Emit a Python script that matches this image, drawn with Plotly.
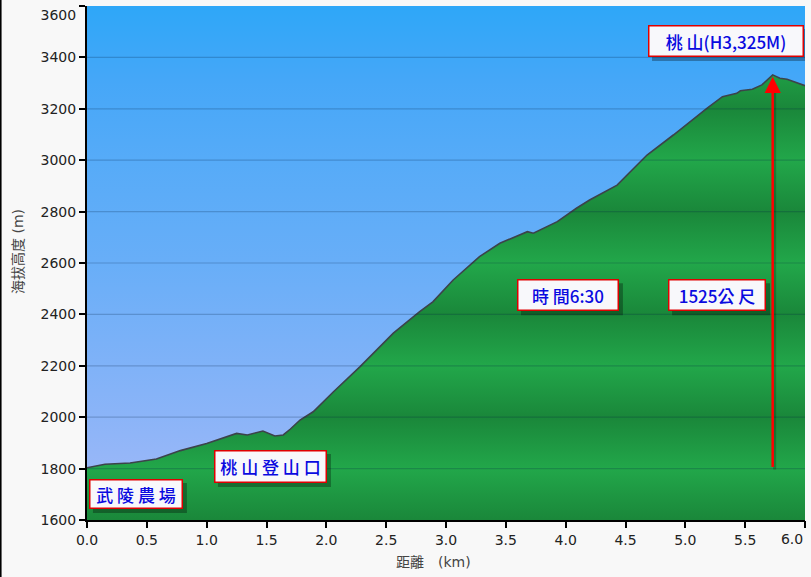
import plotly.graph_objects as go

# ---- data ----
dist_km = [0.00, 0.15, 0.36, 0.58, 0.78, 1.00, 1.25, 1.34, 1.47, 1.57, 1.64, 1.70, 1.78, 1.89,
           2.06, 2.28, 2.56, 2.78, 2.89, 3.06, 3.28, 3.45, 3.68, 3.73, 3.93, 4.09, 4.20, 4.43,
           4.68, 4.90, 5.18, 5.31, 5.43, 5.46, 5.56, 5.64, 5.73, 5.79, 5.85, 5.98, 6.00]
elev_m = [1803, 1817, 1822, 1837, 1870, 1898, 1937, 1931, 1946, 1927, 1931, 1954, 1989, 2021,
          2099, 2196, 2327, 2411, 2449, 2534, 2625, 2677, 2722, 2716, 2761, 2813, 2845, 2903,
          3020, 3098, 3202, 3247, 3260, 3270, 3276, 3293, 3332, 3319, 3315, 3293, 3290]

x_ticks = [0.0, 0.5, 1.0, 1.5, 2.0, 2.5, 3.0, 3.5, 4.0, 4.5, 5.0, 5.5, 6.0]
x_tick_text = ["0.0", "0.5", "1.0", "1.5", "2.0", "2.5", "3.0", "3.5", "4.0", "4.5", "5.0", "5.5", "6.0"]
y_ticks = [1600, 1800, 2000, 2200, 2400, 2600, 2800, 3000, 3200, 3400, 3600]
y_tick_text = ["1600", "1800", "2000", "2200", "2400", "2600", "2800", "3000", "3200", "3400",
               "\u00a0<br>3600"]

label_texts = ["武 陵 農 場", "桃 山 登 山 口", "桃 山(H3,325M)", "時 間6:30", "1525公 尺"]
x_title = "距離　(km)"
y_title = "海拔高度 (m)"
arrow_x_km = 5.73
arrow_from_m = 1800
arrow_to_m = 3325

# ---- geometry helpers ----
W, H = 811, 577
ML, MR, MT, MB = 87, 6, 6, 57
XR = [0, 6]
YR = [1600, 3600]
PW, PH = W - ML - MR, H - MT - MB
px_per_km = PW / (XR[1] - XR[0])
px_per_m = PH / (YR[1] - YR[0])

def dx(px):
    return px / px_per_km

def dy(px):
    return px / px_per_m

fig = go.Figure()

# sky
sky_scale = [[0.0, "#a3b8f8"], [0.1, "#98b7f8"], [0.2, "#8bb4f8"], [0.4, "#74b0f8"],
             [0.5, "#68aef8"], [0.7, "#56abf8"], [0.85, "#46a7f8"], [1.0, "#2ea7f8"]]
fig.add_trace(go.Scatter(
    x=[XR[0], XR[1]], y=[YR[1], YR[1]], mode="lines", line=dict(width=0),
    fill="tozeroy",
    fillgradient=dict(type="vertical", colorscale=sky_scale, start=YR[0], stop=YR[1]),
    hoverinfo="skip", showlegend=False))

# ground with banded gradient
dark, light = "#1a873a", "#22a74a"
ground_scale = []
n = 10
for i in range(n + 1):
    ground_scale.append([i / n, dark if i % 2 == 0 else light])
fig.add_trace(go.Scatter(
    x=dist_km, y=elev_m, mode="lines", line=dict(color="#3c434a", width=1.6),
    fill="tozeroy",
    fillgradient=dict(type="vertical", colorscale=ground_scale, start=YR[0], stop=YR[1]),
    hoverinfo="skip", showlegend=False))

# invisible anchor trace for the secondary x axis that carries the last tick label
fig.add_trace(go.Scatter(x=[XR[1]], y=[YR[0]], xaxis="x2", mode="markers",
                         marker=dict(size=1, opacity=0), hoverinfo="skip", showlegend=False))

shapes = []
for yv in y_ticks[1:-1]:
    shapes.append(dict(type="line", xref="x", yref="y", x0=XR[0], x1=XR[1], y0=yv, y1=yv,
                       line=dict(color="rgba(0,30,70,0.22)", width=1.2), layer="above"))
# left figure border
shapes.append(dict(type="line", xref="paper", yref="paper", x0=-ML / PW + 0.0008, x1=-ML / PW + 0.0008,
                   y0=-MB / PH, y1=1 + MT / PH,
                   line=dict(color="black", width=2), layer="above"))
# arrow shadow
shapes.append(dict(type="line", xref="x", yref="y", x0=arrow_x_km + dx(2), x1=arrow_x_km + dx(2),
                   y0=arrow_from_m - dy(1), y1=arrow_to_m - dy(14),
                   line=dict(color="rgba(0,0,0,0.22)", width=3), layer="above"))

annotations = []
boxes = [
    (0.409, 1701, 94, 30),
    (1.533, 1808, 113, 33),
    (5.340, 3464, 156, 32),
    (4.019, 2475, 102, 32),
    (5.265, 2475, 98, 32),
]
for txt, (cx, cy, bw, bh) in zip(label_texts, boxes):
    shapes.append(dict(type="rect", xref="x", yref="y",
                       x0=cx - dx(bw / 2) + dx(4), x1=cx + dx(bw / 2) + dx(4),
                       y0=cy - dy(bh / 2) - dy(4), y1=cy + dy(bh / 2) - dy(4),
                       fillcolor="rgba(0,0,0,0.30)", line=dict(width=0), layer="above"))
    annotations.append(dict(
        x=cx, y=cy, xref="x", yref="y", text=txt, showarrow=False,
        xanchor="center", yanchor="middle",
        width=bw - 7, height=bh - 7, borderpad=2, borderwidth=1.5,
        bordercolor="#e00000", bgcolor="#f8f8fb",
        font=dict(family="Noto Sans CJK TC", size=17, color="#0a0ae0", weight=500)))

# red arrow
annotations.append(dict(
    x=arrow_x_km, y=arrow_to_m, ax=arrow_x_km, ay=arrow_from_m,
    xref="x", yref="y", axref="x", ayref="y", text="", showarrow=True,
    arrowhead=2, arrowsize=1.3, arrowwidth=2.5, arrowcolor="#ff0000"))

# axis titles
annotations.append(dict(x=(433 - ML) / PW, y=-(562 - MT - PH) / PH, xref="paper", yref="paper",
                        text=x_title, showarrow=False, xanchor="center", yanchor="middle",
                        font=dict(family="DejaVu Sans, Noto Sans CJK TC", size=14, color="#444")))
annotations.append(dict(x=-(ML - 18) / PW, y=(520 - 252) / PH, xref="paper", yref="paper",
                        text=y_title, showarrow=False, textangle=-90, xanchor="center", yanchor="middle",
                        font=dict(family="DejaVu Sans, Noto Sans CJK TC", size=14, color="#444")))

fig.update_layout(
    width=W, height=H,
    margin=dict(l=ML, r=MR, t=MT, b=MB, autoexpand=False),
    paper_bgcolor="#f8f8f8", plot_bgcolor="#f8f8f8",
    shapes=shapes, annotations=annotations,
    font=dict(family="DejaVu Sans", size=14, color="#222"),
    xaxis2=dict(overlaying="x", anchor="y", side="bottom", range=XR,
                tickvals=x_ticks[-1:], ticktext=x_tick_text[-1:], ticklabelshift=-13,
                showgrid=False, zeroline=False, showline=False, ticks="outside", ticklen=6,
                tickwidth=2, tickcolor="black", automargin=False, ticklabeloverflow="allow"),
)
fig.update_xaxes(selector=dict(anchor="y", overlaying=None))
fig.layout.xaxis.update(range=XR, tickvals=x_ticks[:-1] + [x_ticks[-1]], ticktext=x_tick_text[:-1] + [""],
                        showgrid=False, zeroline=False, showline=True, linecolor="black", linewidth=2,
                        ticks="outside", ticklen=6, tickwidth=2, tickcolor="black", automargin=False,
                        ticklabeloverflow="allow")
fig.update_yaxes(range=YR, tickvals=y_ticks, ticktext=y_tick_text,
                 showgrid=False, zeroline=False, showline=True, linecolor="black", linewidth=2,
                 ticks="outside", ticklen=6, tickwidth=2, tickcolor="black", automargin=False,
                 ticklabeloverflow="allow")

fig.write_html("out.html", config={"displayModeBar": False},
               post_script="document.body.style.margin='0';document.body.style.overflow='hidden';")
